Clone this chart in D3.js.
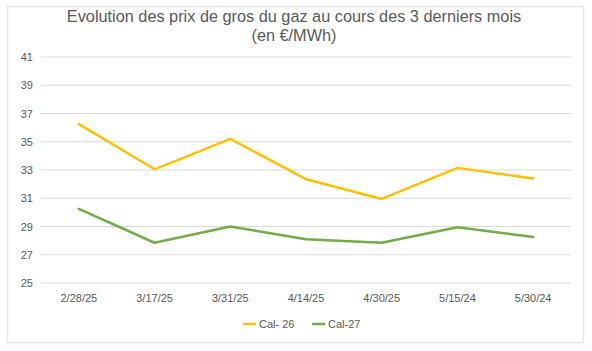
<!DOCTYPE html>
<html><head><meta charset="utf-8">
<script src="https://cdn.jsdelivr.net/npm/d3@7/dist/d3.min.js"></script>
<style>body{margin:0;background:#fff;}svg{display:block;font-family:"Liberation Sans",Arial,sans-serif;}</style>
</head><body>
<svg id="c" width="592" height="351"></svg>
<script>
const categories = ["2/28/25","3/17/25","3/31/25","4/14/25","4/30/25","5/15/24","5/30/24"];
const cal26 = [36.25, 33.05, 35.2, 32.35, 30.95, 33.15, 32.4];
const cal27 = [30.25, 27.85, 29.0, 28.1, 27.85, 28.95, 28.25];
const yTicks = [25,27,29,31,33,35,37,39,41];
const seriesNames = ["Cal- 26","Cal-27"];
const colors = ["#FFC000","#70AD47"];

const svg = d3.select("#c");
svg.append("rect").attr("x",7.5).attr("y",6.5).attr("width",576).attr("height",336)
  .attr("fill","#fff").attr("stroke","#e6e6e6").attr("stroke-width",1.5);

const x = d3.scaleBand().domain(categories).range([41,571]);
const y = d3.scaleLinear().domain([25,41]).range([283,57]);

svg.append("g").selectAll("line").data(yTicks).join("line")
  .attr("x1",41).attr("x2",571).attr("y1",d=>y(d)).attr("y2",d=>y(d))
  .attr("stroke","#d9d9d9").attr("stroke-width",1);

svg.append("g").selectAll("text").data(yTicks).join("text")
  .attr("x",33).attr("y",d=>y(d)+4).attr("text-anchor","end")
  .attr("font-size",11).attr("fill","#595959").text(d=>d);

svg.append("g").selectAll("text").data(categories).join("text")
  .attr("x",d=>x(d)+x.bandwidth()/2).attr("y",302).attr("text-anchor","middle")
  .attr("font-size",11).attr("fill","#595959").text(d=>d);

const line = d3.line().x((d,i)=>x(categories[i])+x.bandwidth()/2).y(d=>y(d));
[cal26,cal27].forEach((s,k)=>{
  svg.append("path").attr("d",line(s)).attr("fill","none")
    .attr("stroke",colors[k]).attr("stroke-width",2.5).attr("stroke-linejoin","round").attr("stroke-linecap","round");
});

svg.append("text").attr("x",294).attr("y",22).attr("text-anchor","middle")
  .attr("font-size",16.3).attr("fill","#595959").text("Evolution des prix de gros du gaz au cours des 3 derniers mois");
svg.append("text").attr("x",294).attr("y",41).attr("text-anchor","middle")
  .attr("font-size",16.3).attr("fill","#595959").text("(en €/MWh)");

const legX = [243,312];
seriesNames.forEach((n,k)=>{
  svg.append("line").attr("x1",legX[k]).attr("x2",legX[k]+13).attr("y1",324).attr("y2",324)
    .attr("stroke",colors[k]).attr("stroke-width",2.5);
  svg.append("text").attr("x",legX[k]+16).attr("y",328).attr("font-size",11)
    .attr("fill","#595959").text(n);
});
</script>
</body></html>
